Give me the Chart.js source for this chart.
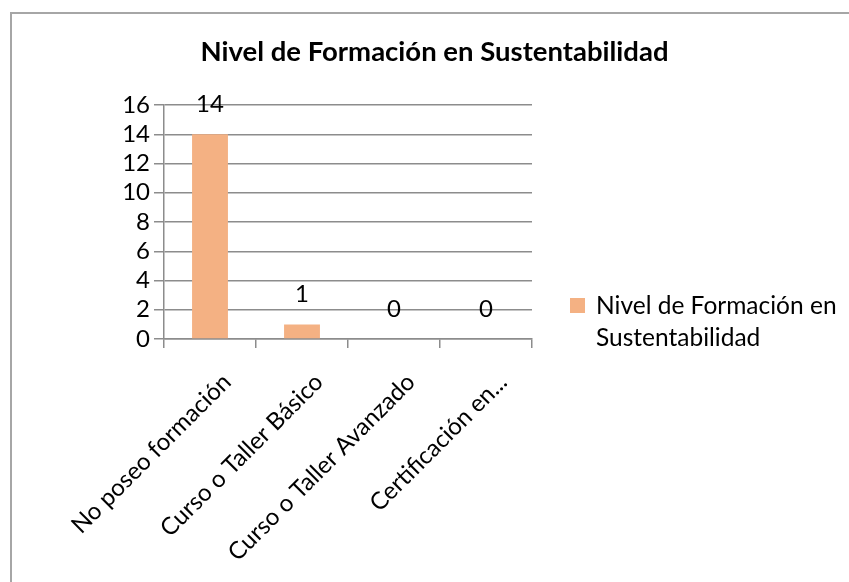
<!DOCTYPE html>
<html>
<head>
<meta charset="utf-8">
<script src="https://cdn.jsdelivr.net/npm/chart.js@4"></script>
<style>
    body { margin: 0; background: #fff; }
    #frame { position: absolute; left: 10px; top: 12px; width: 900px; height: 700px; border: 2px solid #a6a6a6; }
    #chart { position: absolute; left: 0; top: 0; }
</style>
</head>
<body>
<div id="frame"></div>
<canvas id="chart" width="849" height="582"></canvas>
<script>
const categories = ["No poseo formación", "Curso o Taller Básico", "Curso o Taller Avanzado", "Certificación en..."];
const values = [14, 1, 0, 0];
const seriesName = "Nivel de Formación en Sustentabilidad";
const yTicks = [0, 2, 4, 6, 8, 10, 12, 14, 16];

const barColor = "#f4b183";
const gridColor = "#8c8c8c";
const fontName = "Lato, 'Open Sans', sans-serif";

// value labels above the bars
const valueLabels = {
    id: "valueLabels",
    afterDatasetsDraw(chart) {
        const ctx = chart.ctx;
        const meta = chart.getDatasetMeta(0);
        ctx.save();
        ctx.font = "24px " + fontName;
        ctx.fillStyle = "#000";
        ctx.textAlign = "center";
        ctx.textBaseline = "middle";
        meta.data.forEach((bar, i) => {
            ctx.fillText(String(chart.data.datasets[0].data[i]), bar.x, bar.y - 30);
        });
        ctx.restore();
    }
};

// legend on the right, text wrapped on two lines
const sideLegend = {
    id: "sideLegend",
    afterDraw(chart) {
        const ctx = chart.ctx;
        const ds = chart.data.datasets[0];
        const x = chart.chartArea.right + 38;
        const y = 298;
        ctx.save();
        ctx.fillStyle = ds.backgroundColor;
        ctx.fillRect(x, y, 15, 15);
        ctx.font = "24.5px " + fontName;
        ctx.fillStyle = "#000";
        ctx.textAlign = "left";
        ctx.textBaseline = "middle";
        const words = ds.label.split(" ");
        ctx.fillText(words.slice(0, 4).join(" "), x + 26, y + 8);
        ctx.fillText(words.slice(4).join(" "), x + 26, y + 40);
        ctx.restore();
    }
};

new Chart(document.getElementById("chart"), {
    type: "bar",
    data: {
        labels: categories,
        datasets: [{
            label: seriesName,
            data: values,
            backgroundColor: barColor,
            barPercentage: 0.39,
            categoryPercentage: 1
        }]
    },
    options: {
        responsive: false,
        animation: false,
        layout: { padding: { left: 20, top: 0, right: 0, bottom: 0 } },
        plugins: {
            legend: { display: false },
            tooltip: { enabled: false },
            title: {
                display: true,
                text: seriesName,
                color: "#000",
                font: { family: fontName, size: 27.5, weight: "bold" },
                padding: { top: 36, bottom: 36 }
            }
        },
        scales: {
            x: {
                grid: { offset: true, drawOnChartArea: false, drawTicks: true, tickLength: 9, color: gridColor, lineWidth: 1.5 },
                border: { color: gridColor, width: 1.5 },
                ticks: {
                    color: "#000",
                    font: { family: fontName, size: 24 },
                    minRotation: 45,
                    maxRotation: 45,
                    autoSkip: false,
                    padding: 20,
                    labelOffset: 17
                },
                afterFit(scale) { scale.height = 243; }
            },
            y: {
                min: 0,
                max: 16,
                afterBuildTicks(scale) { scale.ticks = yTicks.map(v => ({ value: v })); },
                grid: { color: gridColor, lineWidth: 1.5, tickLength: 10 },
                border: { color: gridColor, width: 1.5 },
                ticks: { color: "#000", font: { family: fontName, size: 24 }, padding: 4, autoSkip: false },
                afterFit(scale) { scale.width = 144; }
            },
            right: {
                position: "right",
                display: true,
                grid: { display: false },
                border: { display: false },
                ticks: { display: false },
                afterFit(scale) { scale.width = 317; }
            }
        }
    },
    plugins: [valueLabels, sideLegend]
});
</script>
</body>
</html>
